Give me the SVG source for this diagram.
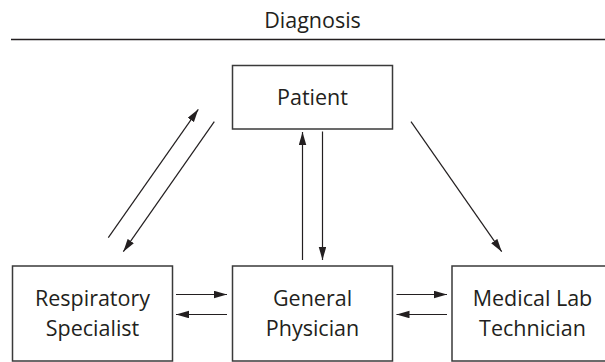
<svg xmlns="http://www.w3.org/2000/svg" width="605" height="362" viewBox="0 0 605 362">
<defs>
<style>
.box{fill:#fff;stroke:#3a3a3a;stroke-width:1.5}
.lbl{font-family:"Open Sans","Noto Sans","Liberation Sans",sans-serif;font-size:21.5px;fill:#231f20;text-anchor:middle}
.ttl{font-family:"Open Sans","Noto Sans","Liberation Sans",sans-serif;font-size:21.5px;fill:#231f20;text-anchor:middle}
.arr{stroke:#231f20;stroke-width:1.2;fill:none;marker-end:url(#ah)}
</style>
<marker id="ah" markerUnits="userSpaceOnUse" markerWidth="14" markerHeight="8" refX="13" refY="3.75" orient="auto">
<path d="M0,0 L13,3.75 L0,7.5 z" fill="#231f20"/>
</marker>
</defs>
<rect width="605" height="362" fill="#fff"/>
<g id="header">
<text class="ttl" x="312.5" y="27.5">Diagnosis</text>
<line x1="11" y1="39.5" x2="605" y2="39.5" stroke="#231f20" stroke-width="1.4"/>
</g>
<g id="patient">
<rect class="box" x="232.5" y="65.5" width="160" height="63.5"/>
<text class="lbl" x="312.5" y="104.5">Patient</text>
</g>
<g id="respiratory">
<rect class="box" x="12.5" y="266" width="160" height="95"/>
<text class="lbl" x="92.5" y="305.5">Respiratory</text>
<text class="lbl" x="92.5" y="336">Specialist</text>
</g>
<g id="general">
<rect class="box" x="232.5" y="266" width="160" height="95"/>
<text class="lbl" x="312.5" y="305.5">General</text>
<text class="lbl" x="312.5" y="336">Physician</text>
</g>
<g id="medical">
<rect class="box" x="452" y="266" width="160" height="95"/>
<text class="lbl" x="532.5" y="305.5">Medical Lab</text>
<text class="lbl" x="532.5" y="336">Technician</text>
</g>
<g id="connectors">
<line class="arr" x1="302.5" y1="260" x2="302.5" y2="132"/>
<line class="arr" x1="322.5" y1="131.5" x2="322.5" y2="260"/>
<line class="arr" x1="108.3" y1="237.7" x2="198.3" y2="109.3"/>
<line class="arr" x1="214.3" y1="121.7" x2="123.3" y2="251.7"/>
<line class="arr" x1="411" y1="121.7" x2="501.7" y2="251.7"/>
<line class="arr" x1="176" y1="294.5" x2="227" y2="294.5"/>
<line class="arr" x1="227" y1="314.5" x2="176" y2="314.5"/>
<line class="arr" x1="396.5" y1="294.5" x2="447" y2="294.5"/>
<line class="arr" x1="447" y1="314.5" x2="396.5" y2="314.5"/>
</g>
</svg>
